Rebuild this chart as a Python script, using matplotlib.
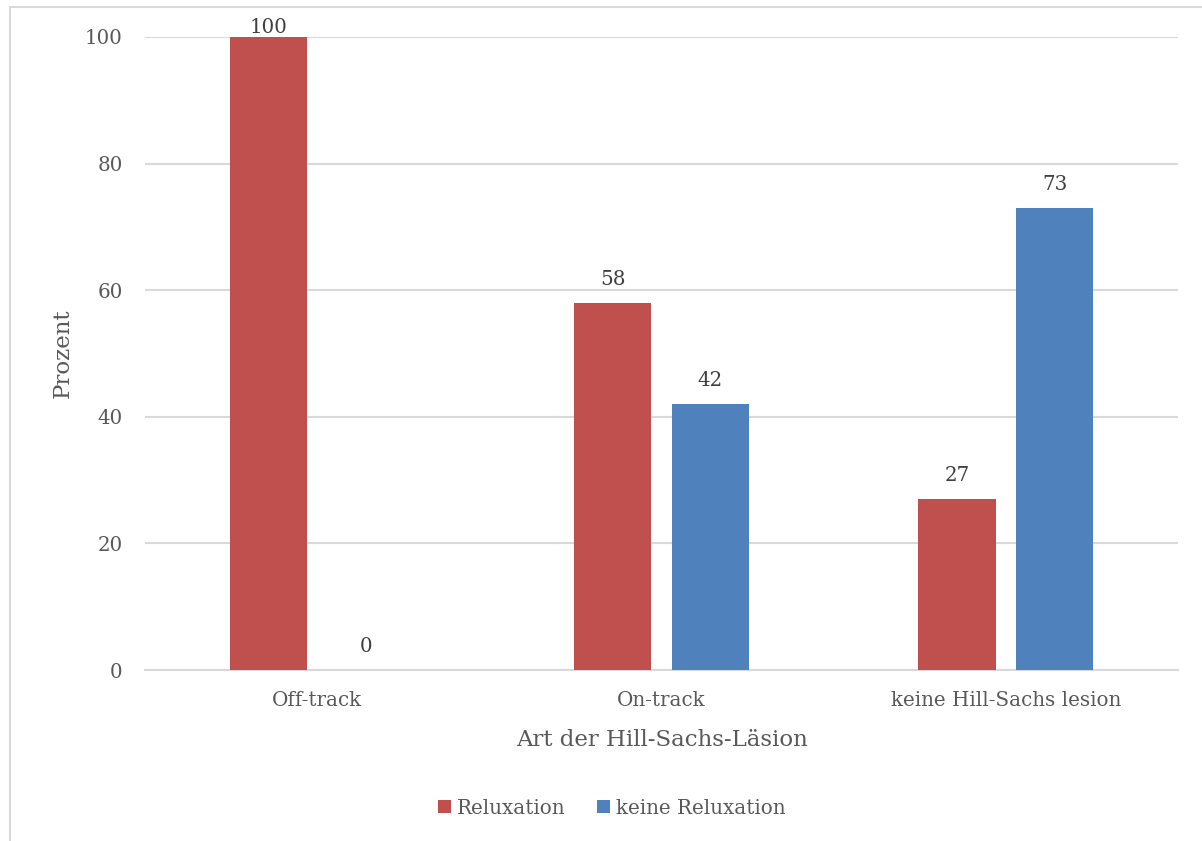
import matplotlib
matplotlib.use("Agg")
import matplotlib.pyplot as plt
from matplotlib.patches import Rectangle
import numpy as np

categories = ["Off-track", "On-track", "keine Hill-Sachs lesion"]
relaxation = [100, 58, 27]
no_relaxation = [0, 42, 73]
series_names = ["Reluxation", "keine Reluxation"]
y_ticks = [0, 20, 40, 60, 80, 100]

RED = "#C0504D"
BLUE = "#4F81BD"
TEXT = "#595959"
GRID = "#D9D9D9"

plt.rcParams["font.family"] = ["DejaVu Serif"]

fig = plt.figure(figsize=(12.02, 8.41), dpi=100)
ax = fig.add_axes([145 / 1202, 1 - 670 / 841, (1178 - 145) / 1202, (670 - 37) / 841])

x = np.arange(len(categories))
width = 0.224
offset = 0.142

bars_r = ax.bar(x - offset, relaxation, width, color=RED, label=series_names[0], zorder=3)
bars_b = ax.bar(x + offset, no_relaxation, width, color=BLUE, label=series_names[1], zorder=3)

for bars, vals in ((bars_r, relaxation), (bars_b, no_relaxation)):
    for b, v in zip(bars, vals):
        dy = 10 if v < 95 else 0
        ax.annotate(f"{v}", (b.get_x() + b.get_width() / 2, v), xytext=(0, dy),
                    textcoords="offset points", ha="center", va="bottom",
                    fontsize=14.3, color="#404040", zorder=4, annotation_clip=False)

ax.set_xlim(-0.5, 2.5)
ax.set_ylim(0, 100)
ax.set_yticks(y_ticks)
ax.set_xticks(x)
ax.set_xticklabels(categories)
ax.tick_params(axis="both", length=0, labelsize=14.3, colors=TEXT)
ax.tick_params(axis="y", pad=16)
ax.tick_params(axis="x", pad=15)
ax.grid(axis="y", color=GRID, linewidth=1.5, zorder=0)
for s in ("top", "right", "left"):
    ax.spines[s].set_visible(False)
ax.spines["bottom"].set_color(GRID)
ax.spines["bottom"].set_linewidth(1.5)

ax.set_ylabel("Prozent", fontsize=16.5, color=TEXT, labelpad=8)
ax.set_xlabel("Art der Hill-Sachs-Läsion", fontsize=16.5, color=TEXT, labelpad=14)

leg = fig.legend(handles=[bars_r, bars_b], labels=series_names, loc="center",
                 bbox_to_anchor=(612 / 1202, 1 - 808 / 841), ncol=2, frameon=False,
                 fontsize=14.3, handlelength=0.65, handleheight=0.65, handletextpad=0.3,
                 columnspacing=1.6, labelcolor=TEXT)

# chart-area frame
fig.patches.append(Rectangle((10 / 1202, -0.2), 1.5, 1.2 - 7 / 841, transform=fig.transFigure,
                             fill=False, edgecolor=GRID, linewidth=1.5, zorder=0))

fig.savefig("out.png", dpi=100)
